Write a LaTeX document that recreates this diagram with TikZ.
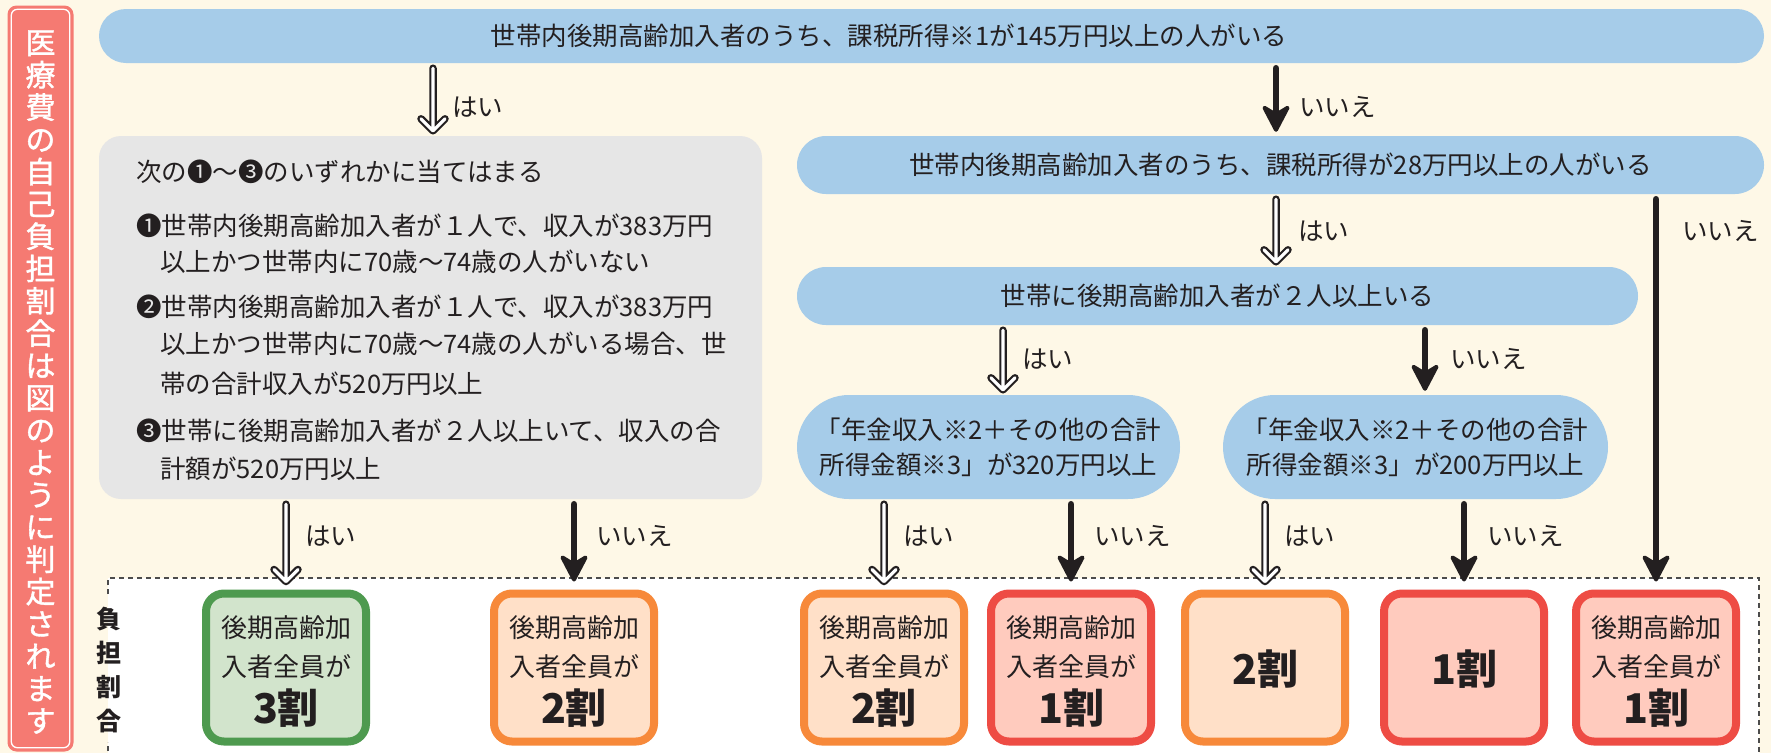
\documentclass[tikz,border=0pt]{standalone}
\usepackage{fontspec}
\setmainfont{Noto Sans CJK JP}
\newfontfamily\sidefont{Noto Sans CJK JP}[FakeBold=1.3]
\usetikzlibrary{arrows.meta}
\definecolor{bg}{HTML}{FEF8E7}
\definecolor{sidered}{HTML}{F57A72}
\definecolor{pblue}{HTML}{A6CCE9}
\definecolor{gbox}{HTML}{E6E6E6}
\definecolor{txt}{HTML}{231F20}
\definecolor{grnB}{HTML}{4E9A4F}
\definecolor{grnF}{HTML}{D2E4CC}
\definecolor{orgB}{HTML}{F7893A}
\definecolor{orgF}{HTML}{FFE0C8}
\definecolor{redB}{HTML}{EE4C44}
\definecolor{redF}{HTML}{FFCBBE}
\tikzset{
  pill/.style={fill=pblue,draw=none,inner sep=0pt,rounded corners=#1},
  gline/.style={anchor=west,inner sep=0pt},
  lbl/.style={anchor=west,inner sep=0pt},
  resbox/.style={rounded corners=18pt,line width=8pt,minimum width=160pt,minimum height=148pt,inner sep=0pt},
  small/.style={inner sep=0pt,font=\fontsize{26}{30}\selectfont},
  big/.style={inner sep=0pt,font=\fontsize{41}{44}\selectfont\bfseries},
}
\newcommand\harr[2]{%
  \draw[line width=7.5pt,line cap=round,line join=round,txt] #1 -- #2 ++(-12,-12) -- #2 -- ++(12,-12);
  \draw[line width=3.2pt,line cap=round,line join=round,white] #1 -- #2 ++(-12,-12) -- #2 -- ++(12,-12);}
\newcommand\barr[2]{%
  \draw[line width=6.5pt,line cap=round,txt,shorten >=12pt] #1 -- #2;
  \filldraw[line width=4pt,line join=round,txt] #2 -- ++(11.5,-22) -- ++(-11.5,7) -- ++(-11.5,-7) -- cycle;}
\begin{document}
\begin{tikzpicture}[x=1pt,y=-1pt,font=\fontsize{25.5}{30}\selectfont,text=txt]
\useasboundingbox (0,0) rectangle (1771,753);
\fill[bg] (0,0) rectangle (1771,753);
% side box
\node[fill=sidered,draw=none,rounded corners=9pt,minimum width=66pt,minimum height=746pt,inner sep=0pt] (side) at (40.5,378.5) {};
\draw[white,line width=1.3pt,rounded corners=6pt] ([shift={(4pt,4pt)}]side.south west) rectangle ([shift={(-4pt,-4pt)}]side.north east);
\node[text=white,font=\fontsize{30}{32.3}\sidefont,align=center,text width=32pt,inner sep=0pt] (sidetext) at (40.5,382) {医\\療\\費\\の\\自\\己\\負\\担\\割\\合\\は\\図\\の\\よ\\う\\に\\判\\定\\さ\\れ\\ま\\す};
% dashed result area
\fill[white] (108,578) rectangle (1759,760);
\draw[line width=1.4pt,black!70,dash pattern=on 5pt off 4pt] (108,760) -- (108,742) (108,594) -- (108,578) -- (1759,578) -- (1759,760);
\node[font=\fontsize{25}{34}\selectfont\bfseries,align=center,text width=30pt,inner sep=0pt] (futan) at (109,670) {負\\担\\割\\合};
% top question
\node[pill=27pt,minimum width=1665pt,minimum height=54pt] (q1) at (931.5,36) {};
\node[inner sep=0pt] (q1t) at (889,36) {世帯内後期高齢加入者のうち、課税所得※1が145万円以上の人がいる};
% gray box
\node[fill=gbox,draw=none,rounded corners=22pt,minimum width=663pt,minimum height=363pt,inner sep=0pt] (g) at (430.5,317.5) {};
\node[gline] (g0) at (136,172) {次の❶〜❸のいずれかに当てはまる};
\node[gline] (g1) at (136,226) {❶世帯内後期高齢加入者が１人で、収入が383万円};
\node[gline] (g2) at (160,262) {以上かつ世帯内に70歳〜74歳の人がいない};
\node[gline] (g3) at (136,307) {❷世帯内後期高齢加入者が１人で、収入が383万円};
\node[gline] (g4) at (160,344) {以上かつ世帯内に70歳〜74歳の人がいる場合、世};
\node[gline] (g5) at (160,384) {帯の合計収入が520万円以上};
\node[gline] (g6) at (136,431) {❸世帯に後期高齢加入者が２人以上いて、収入の合};
\node[gline] (g7) at (160,469) {計額が520万円以上};
% second question
\node[pill=29pt,minimum width=967pt,minimum height=58pt] (q2) at (1280.5,165) {世帯内後期高齢加入者のうち、課税所得が28万円以上の人がいる};
\node[pill=29pt,minimum width=841pt,minimum height=58pt] (q3) at (1217.5,296) {世帯に後期高齢加入者が２人以上いる};
\node[pill=52pt,minimum width=383pt,minimum height=104pt,align=center,font=\fontsize{25.5}{35}\selectfont] (q4) at (988.5,447) {「年金収入※2＋その他の合計\\所得金額※3」が320万円以上};
\node[pill=52pt,minimum width=385pt,minimum height=104pt,align=center,font=\fontsize{25.5}{35}\selectfont] (q5) at (1415.5,447) {「年金収入※2＋その他の合計\\所得金額※3」が200万円以上};
% result boxes
\node[resbox,draw=grnB,fill=grnF] (r1) at (286,667.5) {};
\node[resbox,draw=orgB,fill=orgF] (r2) at (574,667.5) {};
\node[resbox,draw=orgB,fill=orgF] (r3) at (884,667.5) {};
\node[resbox,draw=redB,fill=redF] (r4) at (1071,667.5) {};
\node[resbox,draw=orgB,fill=orgF] (r5) at (1265,667.5) {};
\node[resbox,draw=redB,fill=redF] (r6) at (1464,667.5) {};
\node[resbox,draw=redB,fill=redF] (r7) at (1656,667.5) {};
\foreach \r/\v in {r1/3,r2/2,r3/2,r4/1,r7/1}{
  \node[small] (\r a) at ([yshift=40pt]\r.center) {後期高齢加};
  \node[small] (\r b) at ([yshift=1pt]\r.center) {入者全員が};
  \node[big] (\r c) at ([yshift=-41pt]\r.center) {\v 割};
}
\node[big] (r5c) at ([yshift=-2pt]r5.center) {2割};
\node[big] (r6c) at ([yshift=-2pt]r6.center) {1割};
% x positions
\coordinate (xa) at (433,0);
\coordinate (xb) at (1276,0);
\coordinate (xl) at (1656,0);
\coordinate (xc) at (1003,0);
\coordinate (xd) at (1425,0);
% arrows top level
\harr{([yshift=-5pt]q1.south -| xa)}{([yshift=5pt]g.north -| xa)}
\node[lbl] (la) at (452,107) {はい};
\barr{([yshift=-5pt]q1.south -| xb)}{([yshift=6pt]q2.north -| xb)}
\node[lbl] (lb) at (1299,107) {いいえ};
\harr{([yshift=-5pt]q2.south -| xb)}{([yshift=5pt]q3.north -| xb)}
\node[lbl] (lc) at (1298,231) {はい};
\barr{([yshift=-5pt]q2.south -| xl)}{([yshift=10pt]r7.north -| xl)}
\node[lbl] (ld) at (1682,231) {いいえ};
\harr{([yshift=-5pt]q3.south -| xc)}{([yshift=5pt]q4.north -| xc)}
\node[lbl] (le) at (1022,359) {はい};
\barr{([yshift=-5pt]q3.south -| xd)}{([yshift=6pt]q5.north -| xd)}
\node[lbl] (lf) at (1450,359) {いいえ};
% bottom arrows
\harr{([yshift=-5pt]g.south -| r1.north)}{([yshift=8pt]r1.north)}
\node[lbl] (lg) at (305,536) {はい};
\barr{([yshift=-5pt]g.south -| r2.north)}{([yshift=10pt]r2.north)}
\node[lbl] (lh) at (596,536) {いいえ};
\harr{([yshift=-5pt]q4.south -| r3.north)}{([yshift=8pt]r3.north)}
\node[lbl] (li) at (903,536) {はい};
\barr{([yshift=-5pt]q4.south -| r4.north)}{([yshift=10pt]r4.north)}
\node[lbl] (lj) at (1094,536) {いいえ};
\harr{([yshift=-5pt]q5.south -| r5.north)}{([yshift=8pt]r5.north)}
\node[lbl] (lk) at (1284,536) {はい};
\barr{([yshift=-5pt]q5.south -| r6.north)}{([yshift=10pt]r6.north)}
\node[lbl] (ll) at (1487,536) {いいえ};
\end{tikzpicture}
\end{document}
